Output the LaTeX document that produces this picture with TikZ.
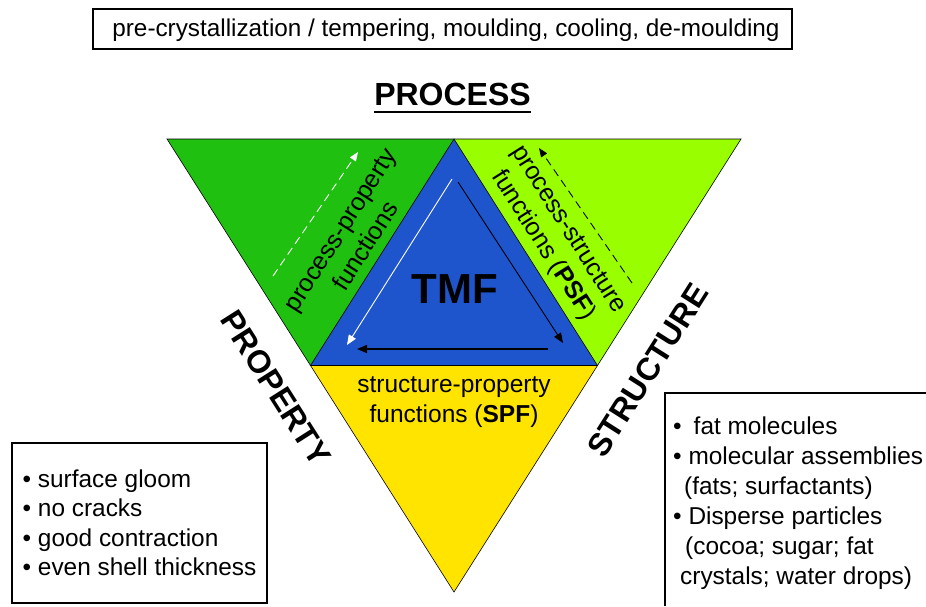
\documentclass[tikz,border=0pt]{standalone}
\usepackage{fontspec}
\setmainfont{Liberation Sans}
\usetikzlibrary{arrows.meta}
\definecolor{leftgreen}{RGB}{31,192,16}
\definecolor{limegreen}{RGB}{153,255,0}
\definecolor{tmfblue}{RGB}{31,85,204}
\definecolor{spfyellow}{RGB}{255,228,0}
\begin{document}
\begin{tikzpicture}[x=1pt,y=-1pt,
  tri/.style={draw=black,line width=0.6pt,line join=miter},
  txt/.style={font=\fontsize{24.5}{29.5}\selectfont,inner sep=0pt,align=center},
  rottxt/.style={font=\fontsize{25}{30}\selectfont,inner sep=0pt,align=center},
  listtxt/.style={font=\fontsize{24.4}{29.5}\selectfont,align=left},
  head/.style={font=\bfseries\fontsize{32}{36}\selectfont,inner sep=0pt},
  frame/.style={draw=black,line width=1.2pt},
  arrsolid/.style={-{Triangle[length=10pt,width=8pt]}},
  arrdash/.style={-{Triangle[length=9pt,width=7pt]},dash pattern=on 8pt off 5pt,line width=0.9pt}
]
\useasboundingbox (0,0) rectangle (926,606);

% vertices
\coordinate (A) at (167,139);
\coordinate (B) at (741,139);
\coordinate (C) at (454,592);
\coordinate (T) at (454,139);
\coordinate (L) at (310.5,365.5);
\coordinate (R) at (597.5,365.5);

% sub-triangles
\fill[leftgreen] (A) -- (T) -- (L) -- cycle;
\fill[limegreen] (T) -- (B) -- (R) -- cycle;
\fill[spfyellow] (L) -- (R) -- (C) -- cycle;
\fill[tmfblue] (T) -- (R) -- (L) -- cycle;
\draw[tri] (A) -- (B) -- (C) -- cycle;
\draw[tri] (T) -- (R) -- (L) -- cycle;

% arrow end points
\coordinate (w1) at (452,179);
\coordinate (w2) at (347,345);
\coordinate (k1) at (458,182);
\coordinate (k2) at (563,343);
\coordinate (h1) at (548,349);
\coordinate (h2) at (357,349);
\coordinate (wd1) at (273,276);
\coordinate (wd2) at (358,152);
\coordinate (kd1) at (632,283);
\coordinate (kd2) at (539,148);

\draw[arrsolid,white,line width=0.9pt] (w1) -- (w2);
\draw[arrsolid,black,line width=0.9pt] (k1) -- (k2);
\draw[arrsolid,black,line width=1.6pt] (h1) -- (h2);
\draw[arrdash,white] (wd1) -- (wd2);
\draw[arrdash,black] (kd1) -- (kd2);

% texts in triangles
\node[rottxt,rotate=57.6] (pp) at (353,238) {process-property\\functions};
\node[rottxt,rotate=-57.6] (ps) at (555,238) {process-structure\\functions (\textbf{PSF})};
\node[txt] (sp) at (454,402) {structure-property\\functions (\textbf{SPF})};
\node[font=\bfseries\fontsize{42}{46}\selectfont,inner sep=0pt] (tmf) at (454.5,289) {TMF};

% corner labels
\node[head] (proc) at (452.5,94) {PROCESS};
\draw[line width=1.8pt] ([yshift=-7pt]proc.base west) -- ([yshift=-7pt]proc.base east);
\node[head,rotate=-57.6] (prop) at (276,388) {PROPERTY};
\node[head,rotate=57.6] (struc) at (648,370) {STRUCTURE};

% top box
\node[frame,font=\fontsize{24.3}{29}\selectfont,minimum width=699pt,minimum height=40pt,inner sep=0pt,text height=19pt,text depth=4pt] (procbox) at (442.5,29) {\hspace{7pt}pre-crystallization / tempering, moulding, cooling, de-moulding};

% left box
\node[frame,listtxt,minimum width=255pt,minimum height=160pt] (propbox) at (139.5,523)
  {\rule{0pt}{4pt}• surface gloom\\• no cracks\\• good contraction\\• even shell thickness};

% right box
\coordinate (rb1) at (926,393);
\coordinate (rb2) at (665,393);
\coordinate (rb3) at (665,606);
\draw[line width=1.2pt] (rb1) -- (rb2) -- (rb3);
\node[font=\fontsize{24.4}{30}\selectfont,align=left,inner sep=0pt,anchor=north west] (strucbox) at (673,417)
  {•\hspace{12pt}fat molecules\\• molecular assemblies\\\hspace{11pt}(fats; surfactants)\\• Disperse particles\\\hspace{12pt}(cocoa; sugar; fat\\\hspace{7pt}crystals; water drops)};
\end{tikzpicture}
\end{document}
